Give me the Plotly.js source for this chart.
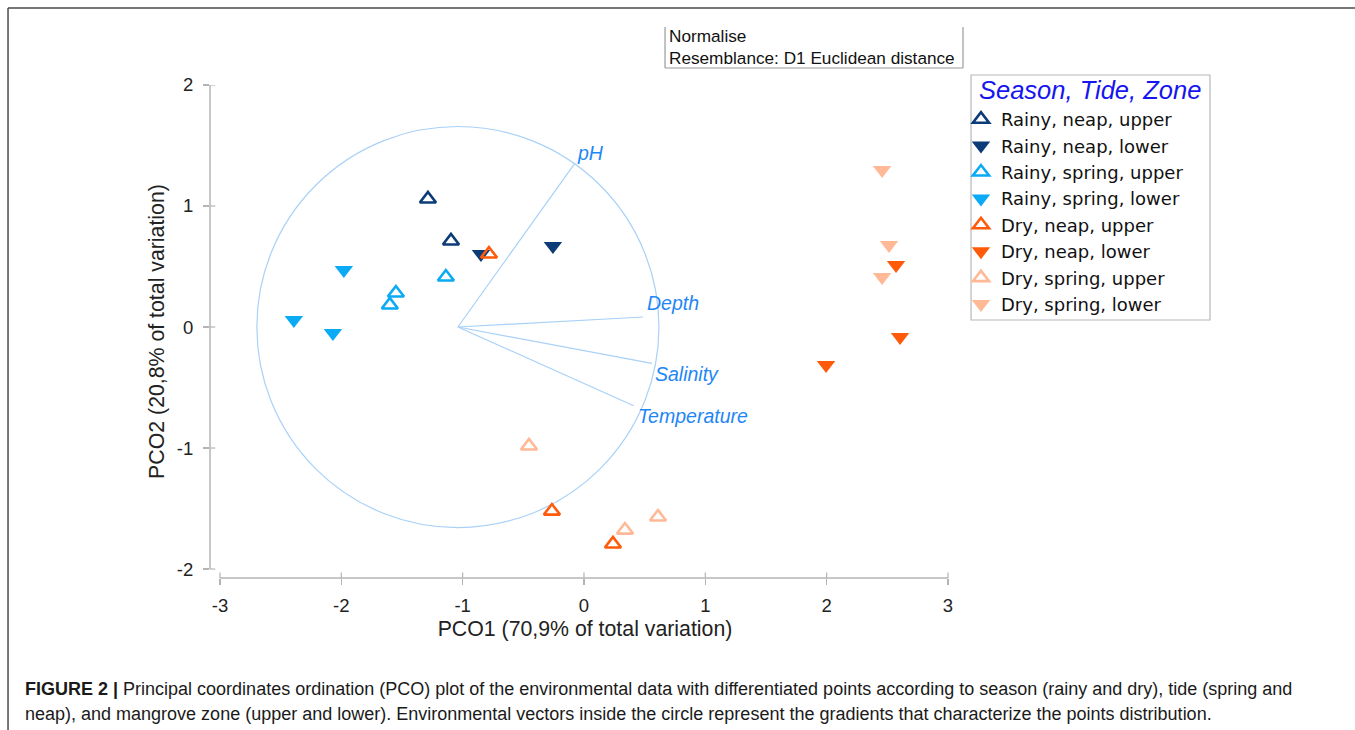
<!DOCTYPE html>
<html>
<head>
<meta charset="utf-8">
<script src="https://cdn.plot.ly/plotly-3.0.1.min.js"></script>
<style>html,body{margin:0;padding:0;background:#fff;}#chart{width:1355px;height:730px;}</style>
</head>
<body>
<div id="chart"></div>
<script>
// ---- data ----
const groupNames = ["Rainy, neap, upper","Rainy, neap, lower","Rainy, spring, upper","Rainy, spring, lower",
                    "Dry, neap, upper","Dry, neap, lower","Dry, spring, upper","Dry, spring, lower"];
const legendTitle = "Season, Tide, Zone";
const rainyNeapUpperX = [-1.286, -1.096];
const rainyNeapUpperY = [1.058, 0.711];
const rainyNeapLowerX = [-0.849, -0.256];
const rainyNeapLowerY = [0.603, 0.669];
const rainySpringUpperX = [-1.138, -1.55, -1.60];
const rainySpringUpperY = [0.413, 0.281, 0.182];
const rainySpringLowerX = [-1.979, -2.391, -2.069];
const rainySpringLowerY = [0.471, 0.058, -0.05];
const dryNeapUpperX = [-0.783, -0.264, 0.239];
const dryNeapUpperY = [0.603, -1.521, -1.793];
const dryNeapLowerX = [2.572, 2.605, 1.995];
const dryNeapLowerY = [0.512, -0.083, -0.314];
const drySpringUpperX = [-0.453, 0.338, 0.61];
const drySpringUpperY = [-0.983, -1.678, -1.57];
const drySpringLowerX = [2.457, 2.514, 2.457];
const drySpringLowerY = [1.298, 0.678, 0.413];

// environmental vectors (relative to circle centre)
const vectorNames = ["pH", "Depth", "Salinity", "Temperature"];
const vectorDX = [0.965, 1.525, 1.599, 1.449];
const vectorDY = [1.355, 0.083, -0.30, -0.65];
const circleCenter = [-1.039, 0];
const circleRadius = 1.657;

const xTicks = [-3, -2, -1, 0, 1, 2, 3];
const yTicks = [-2, -1, 0, 1, 2];

// ---- styling ----
const navy = "#0c3c78", sky = "#0aaaf5", orange = "#ff5a0a", salmon = "#ffb996";
const vecColor = "#a9d1f7", labColor = "#1e86f5";
const font = "Arial, 'Liberation Sans', sans-serif";

function tr(name, x, y, color, up) {
  return {
    type: "scatter", mode: "markers", name: name, x: x, y: y,
    marker: up
      ? {symbol: "triangle-up-open", size: 14, color: color, line: {color: color, width: 2.6}}
      : {symbol: "triangle-down", size: 16, color: color, line: {width: 0}},
    cliponaxis: false
  };
}
const data = [
  tr(groupNames[0], rainyNeapUpperX, rainyNeapUpperY, navy, true),
  tr(groupNames[1], rainyNeapLowerX, rainyNeapLowerY, navy, false),
  tr(groupNames[2], rainySpringUpperX, rainySpringUpperY, sky, true),
  tr(groupNames[3], rainySpringLowerX, rainySpringLowerY, sky, false),
  tr(groupNames[4], dryNeapUpperX, dryNeapUpperY, orange, true),
  tr(groupNames[5], dryNeapLowerX, dryNeapLowerY, orange, false),
  tr(groupNames[6], drySpringUpperX, drySpringUpperY, salmon, true),
  tr(groupNames[7], drySpringLowerX, drySpringLowerY, salmon, false)
];

const shapes = [];
const annotations = [];
// circle
shapes.push({type: "circle", xref: "x", yref: "y", layer: "below",
  x0: circleCenter[0] - circleRadius, x1: circleCenter[0] + circleRadius,
  y0: circleCenter[1] - circleRadius, y1: circleCenter[1] + circleRadius,
  line: {color: vecColor, width: 1.2}});
// vectors
const labOffX = [0.0, 0.013, 0.012, 0.02];
const labOffY = [0.085, 0.115, -0.088, -0.086];
vectorNames.forEach((n, i) => {
  const ex = circleCenter[0] + vectorDX[i], ey = circleCenter[1] + vectorDY[i];
  shapes.push({type: "line", xref: "x", yref: "y", layer: "below",
    x0: circleCenter[0], y0: circleCenter[1], x1: ex, y1: ey,
    line: {color: vecColor, width: 1.2}});
  annotations.push({xref: "x", yref: "y", x: ex + labOffX[i], y: ey + labOffY[i],
    text: n, showarrow: false, xanchor: "left", yanchor: "middle",
    font: {family: font, size: 19.5, color: labColor, style: "italic"}});
});
// axis lines (offset style)
shapes.push({type: "line", xref: "paper", yref: "y", x0: 0, x1: 0, y0: -2, y1: 2,
  line: {color: "#b4b4b4", width: 1.5}});
shapes.push({type: "line", xref: "x", yref: "paper", x0: -3, x1: 3, y0: 0, y1: 0,
  line: {color: "#b4b4b4", width: 1.5}});
// inner halves of crossing ticks
xTicks.forEach(v => shapes.push({type: "line", xref: "x", yref: "paper", x0: v, x1: v, y0: 0, y1: 0.011,
  line: {color: "#b4b4b4", width: 1.2}}));
yTicks.forEach(v => shapes.push({type: "line", xref: "paper", yref: "y", x0: 0, x1: 0.007, y0: v, y1: v,
  line: {color: "#b4b4b4", width: 1.2}}));
// info box (left, bottom, right edges)
const bx0 = 0.6067, bx1 = 1.004, by0 = 1.0345, by1 = 1.1176;
shapes.push({type: "line", xref: "paper", yref: "paper", x0: bx0, x1: bx0, y0: by0, y1: by1, line: {color: "#9a9a9a", width: 1.2}});
shapes.push({type: "line", xref: "paper", yref: "paper", x0: bx0, x1: bx1, y0: by0, y1: by0, line: {color: "#9a9a9a", width: 1.2}});
shapes.push({type: "line", xref: "paper", yref: "paper", x0: bx1, x1: bx1, y0: by0, y1: by1, line: {color: "#9a9a9a", width: 1.2}});
annotations.push({xref: "paper", yref: "paper", x: 0.6093, y: 1.077, xanchor: "left", yanchor: "middle",
  align: "left", showarrow: false, text: "Normalise<br>Resemblance: D1 Euclidean distance",
  font: {family: font, size: 17.2, color: "#111"}});
// legend box and title
shapes.push({type: "rect", xref: "paper", yref: "paper", x0: 1.0147, x1: 1.3333, y0: 0.5233, y1: 1.0203,
  line: {color: "#b8b8b8", width: 1.2}, fillcolor: "rgba(0,0,0,0)"});
annotations.push({xref: "paper", yref: "paper", x: 1.0227, y: 0.9899, xanchor: "left", yanchor: "middle",
  showarrow: false, text: legendTitle,
  font: {family: font, size: 25.5, color: "#1515f0", style: "italic"}});
// figure frame
shapes.push({type: "line", xref: "paper", yref: "paper", x0: -0.2693, x1: -0.2693, y0: -0.31, y1: 1.1562, line: {color: "#4a4a4a", width: 1.5}});
shapes.push({type: "line", xref: "paper", yref: "paper", x0: -0.2693, x1: 1.53, y0: 1.1562, y1: 1.1562, line: {color: "#4a4a4a", width: 1.5}});
// caption
annotations.push({xref: "paper", yref: "paper", x: -0.2493, y: -0.2252, xanchor: "left", yanchor: "middle",
  showarrow: false, align: "left",
  text: "<b>FIGURE 2 |</b> Principal coordinates ordination (PCO) plot of the environmental data with differentiated points according to season (rainy and dry), tide (spring and",
  font: {family: font, size: 18, color: "#1a1a1a"}});
annotations.push({xref: "paper", yref: "paper", x: -0.2493, y: -0.2759, xanchor: "left", yanchor: "middle",
  showarrow: false, align: "left",
  text: "neap), and mangrove zone (upper and lower). Environmental vectors inside the circle represent the gradients that characterize the points distribution.",
  font: {family: font, size: 18, color: "#1a1a1a"}});

const layout = {
  width: 1355, height: 730,
  margin: {l: 210, r: 395, t: 85, b: 152, pad: 0},
  paper_bgcolor: "#fff", plot_bgcolor: "#fff",
  font: {family: font, color: "#222"},
  showlegend: true,
  legend: {
    x: 1.0013, y: 0.9675, xanchor: "left", yanchor: "top",
    borderwidth: 0, bgcolor: "rgba(0,0,0,0)",
    font: {family: "'DejaVu Sans', Arial, sans-serif", size: 18, color: "#111"},
    tracegroupgap: 0, itemwidth: 30
  },
  xaxis: {
    range: [-3.082, 3.099], showgrid: false, zeroline: false, showline: false,
    tickvals: xTicks, ticktext: xTicks.map(String), ticks: "outside", ticklen: 6, tickcolor: "#b4b4b4", tickwidth: 1.2,
    tickfont: {family: font, size: 18.5, color: "#222"}, ticklabelstandoff: 5,
    title: {text: "PCO1 (70,9% of total variation)", font: {family: font, size: 21.3, color: "#222"}, standoff: 5}
  },
  yaxis: {
    range: [-2.074, 2.0], showgrid: false, zeroline: false, showline: false,
    tickvals: yTicks, ticktext: yTicks.map(String), ticks: "outside", ticklen: 6, tickcolor: "#b4b4b4", tickwidth: 1.2,
    tickfont: {family: font, size: 18.5, color: "#222"}, ticklabelstandoff: 6,
    title: {text: "PCO2 (20,8% of total variation)", font: {family: font, size: 21.3, color: "#222"}, standoff: 6}
  },
  shapes: shapes,
  annotations: annotations
};

Plotly.newPlot("chart", data, layout, {displayModeBar: false, staticPlot: true});
</script>
</body>
</html>
